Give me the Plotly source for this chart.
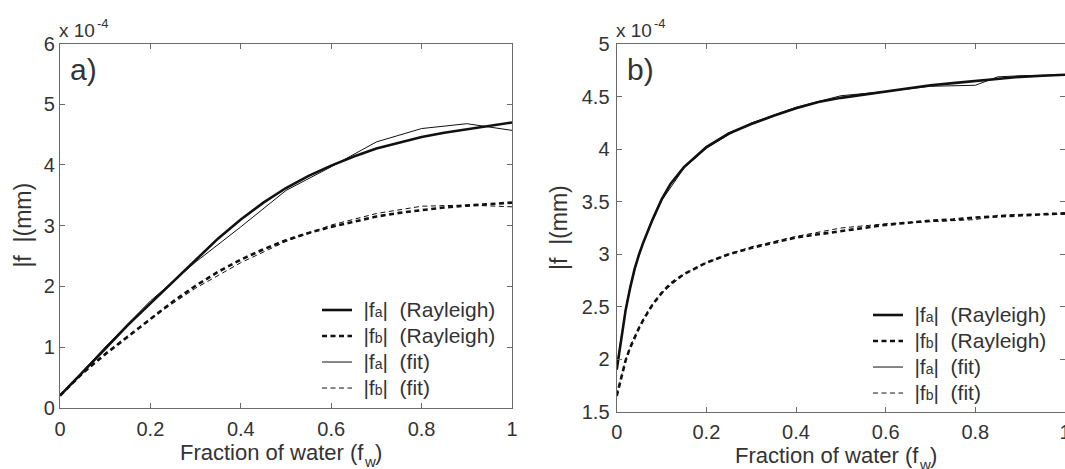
import plotly.graph_objects as go

# ---------------- data (values x 1e-4 mm) ----------------
# Panel a)
xa_ray = [0, 0.05, 0.1, 0.15, 0.2, 0.25, 0.3, 0.35, 0.4, 0.45, 0.5, 0.55, 0.6,
          0.65, 0.7, 0.75, 0.8, 0.85, 0.9, 0.95, 1.0]
fa_ray_a = [0.2, 0.58, 0.97, 1.36, 1.72, 2.08, 2.44, 2.79, 3.10, 3.38, 3.62, 3.82,
            3.99, 4.14, 4.27, 4.37, 4.46, 4.53, 4.59, 4.65, 4.70]
fb_ray_a = [0.2, 0.57, 0.88, 1.17, 1.47, 1.75, 2.01, 2.24, 2.44, 2.61, 2.76, 2.88,
            2.98, 3.07, 3.15, 3.21, 3.26, 3.30, 3.33, 3.36, 3.38]
xa_fit = [0, 0.1, 0.2, 0.3, 0.4, 0.5, 0.6, 0.7, 0.8, 0.9, 1.0]
fa_fit_a = [0.2, 1.0, 1.76, 2.40, 2.98, 3.58, 3.97, 4.38, 4.60, 4.68, 4.57]
fb_fit_a = [0.2, 0.9, 1.47, 1.97, 2.39, 2.74, 3.01, 3.20, 3.32, 3.34, 3.31]

# Panel b)
xb_ray = [0, 0.01, 0.02, 0.03, 0.04, 0.05, 0.06, 0.08, 0.1, 0.12, 0.15, 0.2, 0.25,
          0.3, 0.35, 0.4, 0.45, 0.5, 0.55, 0.6, 0.65, 0.7, 0.75, 0.8, 0.85, 0.9,
          0.95, 1.0]
fa_ray_b = [1.90, 2.20, 2.47, 2.68, 2.86, 3.00, 3.12, 3.33, 3.52, 3.67, 3.83, 4.02,
            4.15, 4.24, 4.32, 4.39, 4.45, 4.49, 4.52, 4.55, 4.58, 4.61, 4.63, 4.65,
            4.67, 4.69, 4.70, 4.71]
fb_ray_b = [1.65, 1.83, 1.99, 2.11, 2.21, 2.30, 2.38, 2.52, 2.63, 2.72, 2.81, 2.92,
            3.00, 3.06, 3.11, 3.16, 3.19, 3.22, 3.25, 3.28, 3.30, 3.32, 3.33, 3.35,
            3.36, 3.37, 3.38, 3.39]
xb_fit = [0, 0.01, 0.02, 0.03, 0.05, 0.075, 0.1, 0.15, 0.2, 0.25, 0.3, 0.4, 0.5,
          0.6, 0.7, 0.8, 0.85, 0.9, 1.0]
fa_fit_b = [1.92, 2.22, 2.48, 2.69, 3.00, 3.29, 3.51, 3.82, 4.01, 4.14, 4.25, 4.40,
            4.51, 4.55, 4.60, 4.61, 4.69, 4.70, 4.71]
fb_fit_b = [1.66, 1.84, 2.00, 2.12, 2.31, 2.50, 2.63, 2.81, 2.92, 3.00, 3.07, 3.17,
            3.25, 3.29, 3.31, 3.33, 3.37, 3.38, 3.38]

# legend labels: (quantity subscript, method)
legend_parts = [('a', 'Rayleigh'), ('b', 'Rayleigh'), ('a', 'fit'), ('b', 'fit')]

x_ticks = [0, 0.2, 0.4, 0.6, 0.8, 1.0]
ya_ticks = [0, 1, 2, 3, 4, 5, 6]
yb_ticks = [1.5, 2, 2.5, 3, 3.5, 4, 4.5, 5]

# ---------------- figure ----------------
W, H = 1065, 469
LINE = '#111111'
AX = '#6a6a6a'
TXT = '#333333'
FONT = 'Liberation Sans, Arial, sans-serif'

names = ['\u00a0\u200a<span style="font-size:21px">|f<span style="font-size:14px">'
         + s + '</span>|  (' + m + ')</span>' for s, m in legend_parts]

fig = go.Figure()

styles = [dict(width=2.6, dash='solid'),
          dict(width=2.6, dash='5px,3.5px'),
          dict(width=1.0, dash='solid'),
          dict(width=1.0, dash='5px,3.5px')]

panel_a = [(xa_ray, fa_ray_a), (xa_ray, fb_ray_a), (xa_fit, fa_fit_a), (xa_fit, fb_fit_a)]
panel_b = [(xb_ray, fa_ray_b), (xb_ray, fb_ray_b), (xb_fit, fa_fit_b), (xb_fit, fb_fit_b)]

for i, (xx, yy) in enumerate(panel_a):
    fig.add_trace(go.Scatter(x=xx, y=yy, mode='lines', name=names[i],
                             line=dict(color=LINE, **styles[i]),
                             xaxis='x', yaxis='y', legend='legend'))
for i, (xx, yy) in enumerate(panel_b):
    fig.add_trace(go.Scatter(x=xx, y=yy, mode='lines', name=names[i],
                             line=dict(color=LINE, **styles[i]),
                             xaxis='x2', yaxis='y2', legend='legend2'))

def px_x(p):
    return p / W

def px_y(p):
    return 1 - p / H

common_axis = dict(showgrid=False, zeroline=False, ticks='inside', ticklen=5,
                   tickcolor=AX, tickwidth=1, linecolor=AX, linewidth=1.3,
                   mirror='ticks', showline=True, automargin=False,
                   tickfont=dict(family=FONT, size=20, color=TXT))

fig.update_layout(
    width=W, height=H,
    margin=dict(l=0, r=0, t=0, b=0),
    paper_bgcolor='white', plot_bgcolor='white',
    font=dict(family=FONT, color=TXT),
    xaxis=dict(domain=[px_x(60), px_x(512)], range=[0, 1], tickvals=x_ticks,
               anchor='y', ticklabelstandoff=3, **common_axis),
    yaxis=dict(domain=[px_y(407.7), px_y(43.6)], range=[0, 6], tickvals=ya_ticks,
               anchor='x', **common_axis),
    xaxis2=dict(domain=[px_x(616.7), 1.0], range=[0, 1], tickvals=x_ticks,
                anchor='y2', ticklabelstandoff=2, ticklabeloverflow='allow',
                **common_axis),
    yaxis2=dict(domain=[px_y(411.7), px_y(44.3)], range=[1.5, 5], tickvals=yb_ticks,
                anchor='x2', ticklabelstandoff=2, **common_axis),
    legend=dict(x=px_x(317), y=px_y(292), xanchor='left', yanchor='top',
                bgcolor='rgba(0,0,0,0)', borderwidth=0,
                font=dict(family=FONT, size=17.7, color=TXT)),
    legend2=dict(x=px_x(868), y=px_y(297), xanchor='left', yanchor='top',
                 bgcolor='rgba(0,0,0,0)', borderwidth=0,
                 font=dict(family=FONT, size=17.7, color=TXT)),
    showlegend=True,
)

def note(x, y, text, size, xanchor='left', yanchor='middle', angle=0):
    return dict(x=px_x(x), y=px_y(y), xref='paper', yref='paper', xanchor=xanchor,
                yanchor=yanchor, showarrow=False, text=text, textangle=angle,
                borderpad=0, font=dict(family=FONT, size=size, color=TXT))

ann = []
# multiplier labels "x 10^-4"
for xp in (58, 615):
    ann.append(note(xp, 30, 'x 10', 19))
    ann.append(note(xp + 37.5, 23.5, '-4', 13))
# panel letters
ann.append(note(69, 69, 'a)', 30))
ann.append(note(626, 69, 'b)', 30))
# y titles
ann.append(note(23, 225.6, '|f\u00a0\u00a0|(mm)', 23, xanchor='center', angle=-90))
ann.append(note(559, 228, '|f\u00a0\u00a0|(mm)', 23, xanchor='center', angle=-90))
# x titles: "Fraction of water (f" + subscript w + ")"
for fx, base in ((365.2, 452.5), (920.4, 455.5)):
    ann.append(note(fx, base, 'Fraction of water (f', 22, xanchor='right'))
    ann.append(note(fx - 2.5, base + 9, 'w', 15))
    ann.append(note(fx + 8.5, base, ')', 22))
fig.update_layout(annotations=ann)

fig.write_html("out.html", config={"displayModeBar": False})
